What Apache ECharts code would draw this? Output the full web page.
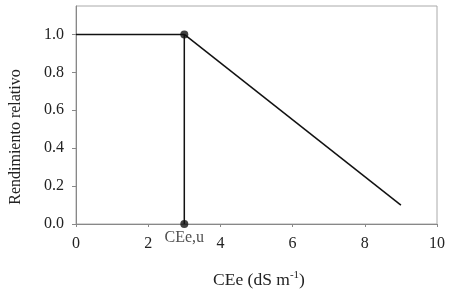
<!DOCTYPE html>
<html><head><meta charset="utf-8">
<script src="https://cdn.jsdelivr.net/npm/echarts@6/dist/echarts.min.js"></script>
<style>html,body{margin:0;padding:0;background:#fff}#c{width:450px;height:302px}</style>
</head><body><div id="c"></div>
<script>
// Data
var plateau = [[0, 1.0], [3, 1.0]];
var threshold = [[3, 1.0], [3, 0.0]];
var decline = [[3, 1.0], [9, 0.1]];
var markers = [[3, 1.0], [3, 0.0]];
var thresholdLabel = 'CEe,u';
var xTicks = [0, 2, 4, 6, 8, 10];
var yTicks = [0.0, 0.2, 0.4, 0.6, 0.8, 1.0];
var xName = 'CEe (dS m';
var yName = 'Rendimiento relativo';

var font = 'Liberation Serif';
var lineStyle = {color: '#111', width: 1.5};
var chart = echarts.init(document.getElementById('c'));
chart.setOption({
  animation: false,
  grid: {left: 76, right: 13, top: 6, bottom: 78, show: true, borderColor: '#aaa', borderWidth: 1},
  xAxis: {
    type: 'value', min: 0, max: 10, interval: 2,
    axisLine: {show: true, lineStyle: {color: '#888', width: 1}},
    axisTick: {show: true, length: 3, lineStyle: {color: '#888'}, customValues: xTicks},
    axisLabel: {color: '#222', fontFamily: font, fontSize: 16, margin: 12, customValues: xTicks,
      formatter: function (v) { return String(v); }},
    splitLine: {show: false},
    name: '{a|' + xName + '}{s|-1}{a|)}', nameLocation: 'middle', nameGap: 46,
    nameTextStyle: {padding: [0, 0, 0, 5], rich: {
      a: {fontFamily: font, fontSize: 17.5, color: '#222'},
      s: {fontFamily: font, fontSize: 11, color: '#222', verticalAlign: 'bottom', padding: [0, 0, 9, 0]}
    }}
  },
  yAxis: {
    type: 'value', min: 0, max: 1.15, interval: 0.2,
    axisLine: {show: true, lineStyle: {color: '#888', width: 1}},
    axisTick: {show: true, length: 4, lineStyle: {color: '#888'}, customValues: yTicks},
    axisLabel: {color: '#222', fontFamily: font, fontSize: 16, margin: 12, customValues: yTicks,
      formatter: function (v) { return v.toFixed(1); }},
    splitLine: {show: false},
    name: yName, nameLocation: 'middle', nameGap: 52,
    nameTextStyle: {fontFamily: font, fontSize: 16, color: '#222', padding: [0, 44, 0, 0]}
  },
  series: [
    {type: 'line', data: plateau, symbol: 'none', lineStyle: lineStyle},
    {type: 'line', data: threshold, symbol: 'none', lineStyle: lineStyle},
    {type: 'line', data: decline, symbol: 'none', lineStyle: lineStyle},
    {type: 'scatter', data: markers, symbolSize: 8, itemStyle: {color: '#111'}, z: 5,
      label: {show: true, position: 'bottom', distance: 2, fontFamily: font, fontSize: 16, color: '#222',
        formatter: function (p) { return p.data[1] === 0 ? thresholdLabel : ''; }}}
  ]
});
</script></body></html>
